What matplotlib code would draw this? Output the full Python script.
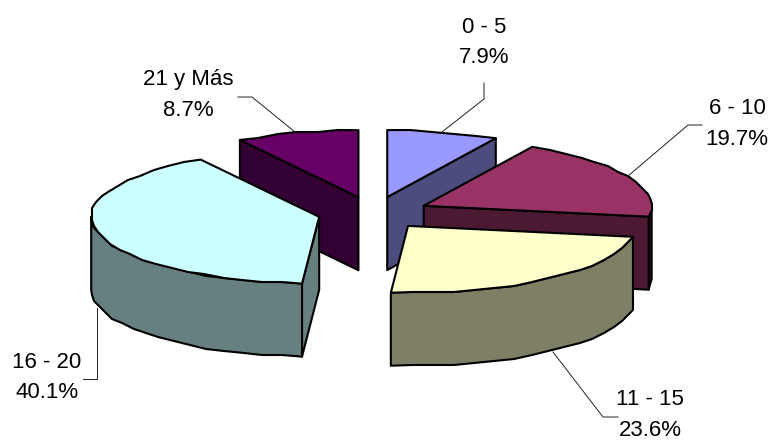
import numpy as np
import matplotlib
matplotlib.use("Agg")
import matplotlib.pyplot as plt
from matplotlib.patches import Polygon

categories = ["0 - 5", "6 - 10", "11 - 15", "16 - 20", "21 y Más"]
percentages = [7.9, 19.7, 23.6, 40.1, 8.7]
top_colors = ["#9999FF", "#993366", "#FFFFCC", "#CCFFFF", "#660066"]
side_colors = ["#4C4C7F", "#4C1933", "#7F7F66", "#667F7F", "#330033"]

# pie geometry, in figure pixels
CX, CY = 373.5, 213
RX, RY = 228, 67
DEPTH = 73
EXPLODE = 0.245
GRID = 2.0  # coarse rim rounding gives the plotted arcs their stepped outline

# label text centre and leader polyline for each slice
label_xy = [(484, 42.5), (737, 124), (650, 415), (47, 377.5), (188, 95)]
leaders = [
    [(442, 132), (484, 99), (484, 83)],
    [(628, 176), (688, 125), (702, 125)],
    [(553, 352), (603, 417), (618, 417)],
    [(97, 308), (97, 379), (83, 379)],
    [(295, 132), (252, 97), (238, 97)],
]


def rim(apex, a0, a1):
    n = max(2, int(abs(a1 - a0) / 5) + 1)
    t = np.radians(np.linspace(a0, a1, n))
    x = apex[0] + RX * np.sin(t)
    y = apex[1] - RY * np.cos(t)
    pts = np.column_stack([x, y])
    pts[1:-1] = np.round(pts[1:-1] / GRID) * GRID
    return pts


fig = plt.figure(figsize=(7.72, 4.40), dpi=100)
ax = fig.add_axes([0, 0, 1, 1])
ax.set_xlim(0, 772)
ax.set_ylim(440, 0)
ax.axis("off")

edges = np.cumsum([0] + percentages) / sum(percentages) * 360
apexes = []
for i in range(len(percentages)):
    mid = np.radians((edges[i] + edges[i + 1]) / 2)
    apexes.append((CX + EXPLODE * RX * np.sin(mid), CY - EXPLODE * RY * np.cos(mid)))


def face(pts, color, z):
    ax.add_patch(Polygon(pts, closed=True, facecolor=color, edgecolor="black",
                         linewidth=1.5, joinstyle="round", zorder=z))


def cut_face(i, angle, z):
    a = np.array(apexes[i])
    r = rim(apexes[i], angle, angle)[0]
    d = np.array([0, DEPTH])
    face([a, r, r + d, a + d], side_colors[i], z)


def wall(i, a0, a1, z):
    arc = rim(apexes[i], a0, a1)
    face(np.vstack([arc, arc[::-1] + [0, DEPTH]]), side_colors[i], z)


def top(i, z):
    arc = rim(apexes[i], edges[i], edges[i + 1])
    face(np.vstack([[apexes[i]], arc]), top_colors[i], z)


# drawn back to front so nearer slices cover the ones behind them
cut_face(4, edges[4], 1)
top(4, 1.1)
cut_face(0, edges[1], 1)
top(0, 1.1)
wall(1, 90, edges[2], 2)
cut_face(1, edges[2], 2)
top(1, 2.1)
cut_face(3, edges[3], 3)
wall(3, edges[3], 270, 3)
top(3, 3.1)
wall(2, edges[2], edges[3], 4)
top(2, 4.1)

for name, pct, (x, y), path in zip(categories, percentages, label_xy, leaders):
    ax.plot(*zip(*path), color="#222222", linewidth=0.7, zorder=5)
    ax.text(x, y, f"{name}\n{pct:.1f}%", ha="center", va="center",
            family="Liberation Sans", fontsize=16, linespacing=1.6,
            color="black", zorder=6, clip_on=False)

fig.savefig("out.png", dpi=100, facecolor="white")
